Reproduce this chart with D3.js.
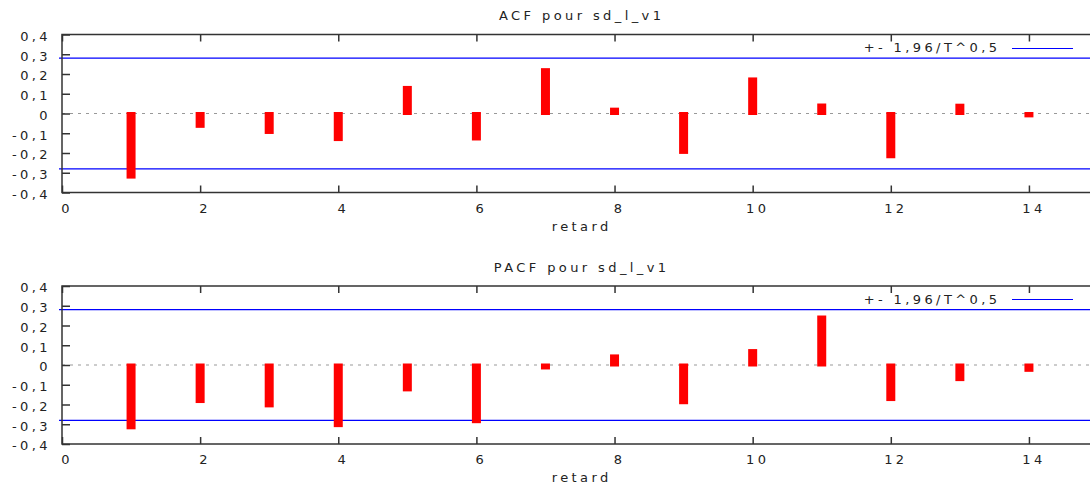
<!DOCTYPE html>
<html>
<head>
<meta charset="utf-8">
<script src="https://cdn.jsdelivr.net/npm/d3@7"></script>
<style>
	body { margin: 0; background: #fff; }
	svg text { font-family: "DejaVu Sans", sans-serif; font-size: 13px; letter-spacing: 3.4px; fill: #222; }
</style>
</head>
<body>
<svg id="chart" width="1090" height="486"></svg>
<script>
const lags = [1, 2, 3, 4, 5, 6, 7, 8, 9, 10, 11, 12, 13, 14];
const acfValues = [-0.322, -0.065, -0.096, -0.132, 0.132, -0.129, 0.222, 0.022, -0.197, 0.175, 0.043, -0.219, 0.042, -0.012];
const pacfValues = [-0.318, -0.185, -0.207, -0.307, -0.126, -0.287, -0.015, 0.046, -0.191, 0.073, 0.243, -0.175, -0.074, -0.027];
const xTicks = [0, 2, 4, 6, 8, 10, 12, 14];
const yTicks = [-0.4, -0.3, -0.2, -0.1, 0, 0.1, 0.2, 0.3, 0.4];
const bound = 0.28; // 1,96/T^0,5
const LS = 3.4; // letter spacing, chrome adds it after the last glyph too

const svg = d3.select('#chart');
const fmt = (d) => d === 0 ? '0' : d3.format('.1f')(d).replace('.', ',').replace('−', '-');

const x = d3.scaleLinear().domain([0, 15]).range([62, 1098]);

function panel(top, title, values) {
	let bottom = top + 158;
	let y = d3.scaleLinear().domain([-0.4, 0.4]).range([bottom, top]);
	let g = svg.append('g');

	g.append('text')
		.attr('x', 580 + LS / 2).attr('y', top - 14.5)
		.attr('text-anchor', 'middle')
		.text(title);

	// zero line
	g.append('line')
		.attr('x1', x(0)).attr('x2', x(15))
		.attr('y1', y(0)).attr('y2', y(0))
		.attr('stroke', '#999').attr('stroke-width', 1)
		.attr('stroke-dasharray', '3,5');

	// bounds
	g.selectAll('line.bound')
		.data([bound, -bound])
		.enter().append('line')
			.attr('class', 'bound')
			.attr('x1', x(0) - 3).attr('x2', x(15))
			.attr('y1', (d) => y(d)).attr('y2', (d) => y(d))
			.attr('stroke', '#0000ff').attr('stroke-width', 1.2);

	// impulses
	g.selectAll('rect.bar')
		.data(values)
		.enter().append('rect')
			.attr('class', 'bar')
			.attr('x', (d, i) => x(lags[i]) - 4.5)
			.attr('y', (d) => Math.min(y(d), y(0)) - 1.5)
			.attr('width', 9)
			.attr('height', (d) => Math.abs(y(d) - y(0)) + 3)
			.attr('fill', '#ff0000');

	// axes, ticks inward like gnuplot
	let xb = g.append('g')
		.attr('transform', `translate(0,${bottom})`)
		.call(d3.axisBottom(x).tickValues(xTicks).tickSize(-7).tickPadding(11).tickFormat(d3.format('d')));
	xb.selectAll('text').attr('dx', 4.5);
	g.append('g')
		.attr('transform', `translate(0,${top})`)
		.call(d3.axisTop(x).tickValues(xTicks).tickSize(-7).tickFormat(''));
	let yl = g.append('g')
		.attr('transform', `translate(${x(0)},0)`)
		.call(d3.axisLeft(y).tickValues(yTicks).tickSize(-8).tickPadding(11).tickFormat(fmt));
	yl.selectAll('text').attr('dy', '0.45em');
	g.append('g')
		.attr('transform', `translate(${x(15)},0)`)
		.call(d3.axisRight(y).tickValues(yTicks).tickSize(-8).tickFormat(''));
	g.selectAll('.domain').remove();
	g.selectAll('.tick line').attr('stroke', '#333').attr('stroke-width', 1.5);
	g.selectAll('.tick text').attr('fill', '#222').style('font-size', '13px').style('font-family', '"DejaVu Sans", sans-serif');

	g.append('rect')
		.attr('x', x(0)).attr('y', top)
		.attr('width', x(15) - x(0)).attr('height', bottom - top)
		.attr('fill', 'none').attr('stroke', '#333').attr('stroke-width', 1.5);

	// legend
	g.append('text')
		.attr('x', 997 + LS).attr('y', top + 17.5)
		.attr('text-anchor', 'end')
		.text('+- 1,96/T^0,5');
	g.append('line')
		.attr('x1', 1012).attr('x2', 1073)
		.attr('y1', Math.round(top + 13) + 0.5).attr('y2', Math.round(top + 13) + 0.5)
		.attr('stroke', '#0000ff').attr('stroke-width', 1);

	g.append('text')
		.attr('x', 580 + LS / 2).attr('y', bottom + 38)
		.attr('text-anchor', 'middle')
		.text('retard');
}

panel(34.5, 'ACF pour sd_l_v1', acfValues);
panel(286, 'PACF pour sd_l_v1', pacfValues);
</script>
</body>
</html>
